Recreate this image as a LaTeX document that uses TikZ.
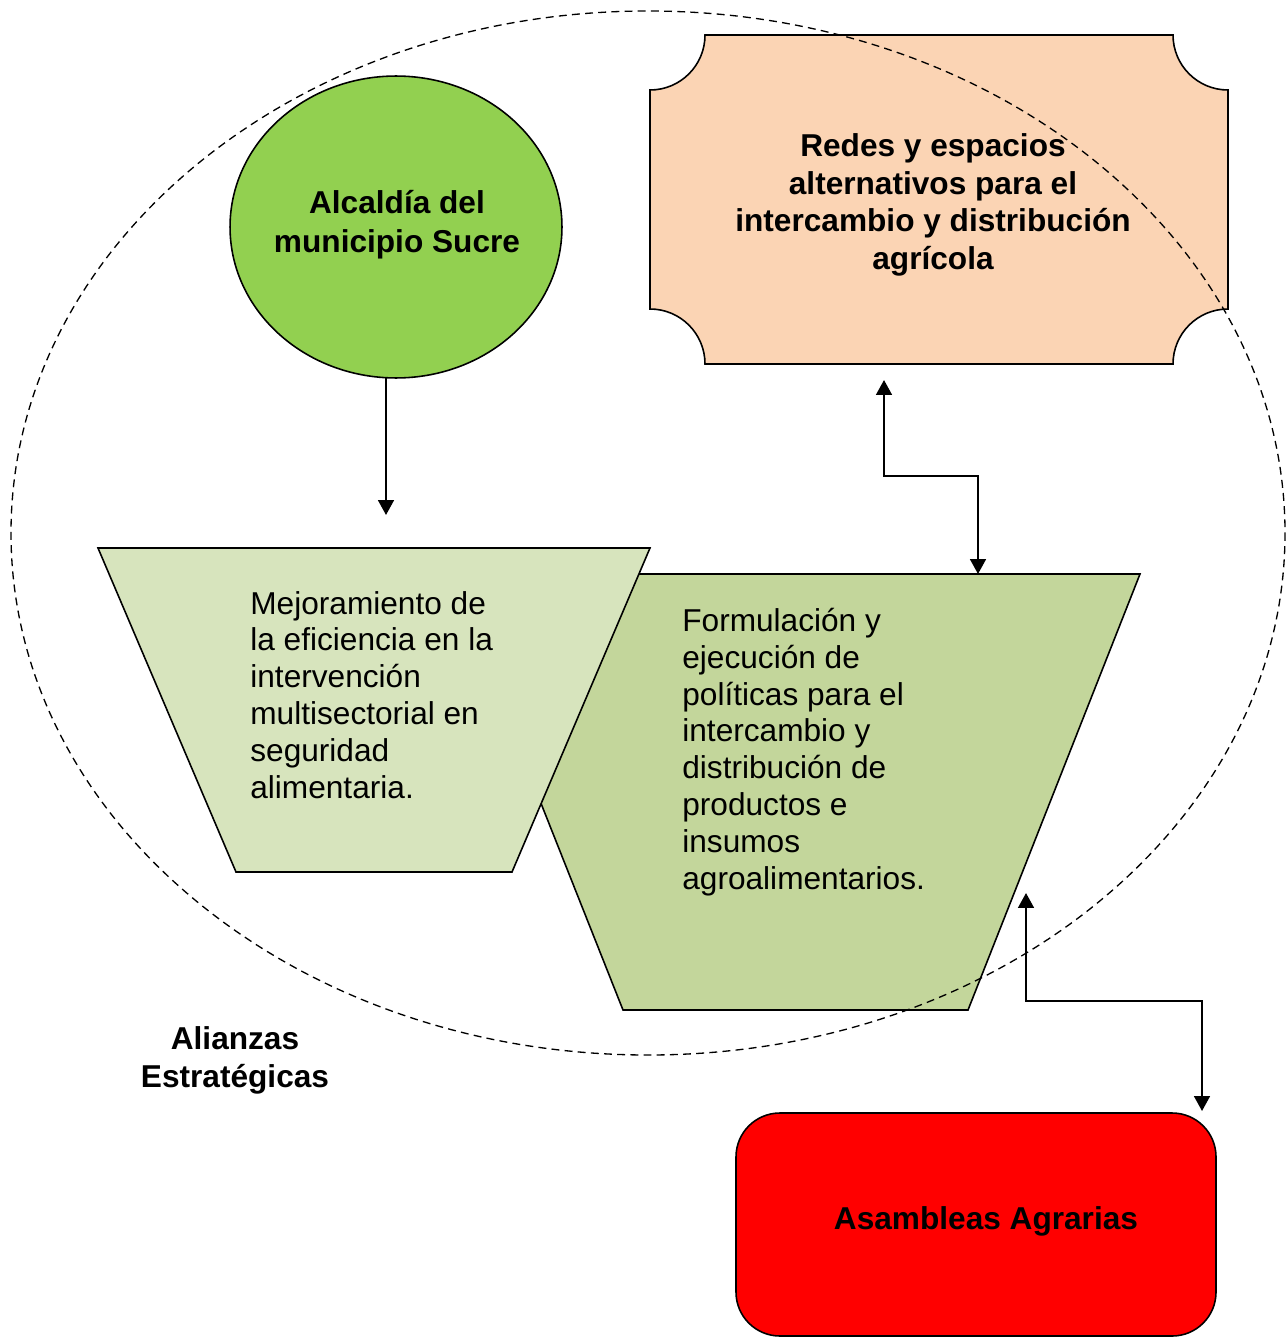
\documentclass[tikz,border=0pt]{standalone}
\usepackage{fontspec}
\setmainfont{Liberation Sans}
\usetikzlibrary{arrows.meta,shapes.geometric}
\definecolor{circgreen}{HTML}{92D050}
\definecolor{peach}{HTML}{FBD4B4}
\definecolor{lightolive}{HTML}{D7E4BD}
\definecolor{olive}{HTML}{C3D69B}
\tikzset{
  shapeline/.style={draw=black, line width=0.9pt},
  link/.style={line width=1.2pt, -{Triangle[length=8.5pt,width=9pt]}},
  biglink/.style={line width=1.2pt, {Triangle[length=8.5pt,width=9pt]}-{Triangle[length=8.5pt,width=9pt]}},
  boldtxt/.style={font=\fontsize{18}{21.5}\selectfont\bfseries, align=center, inner sep=0pt},
  bodytxt/.style={font=\fontsize{18}{21}\selectfont, align=left, inner sep=0pt, anchor=west},
}
\begin{document}
\begin{tikzpicture}[x=0.02cm, y=-0.02cm]
\useasboundingbox (0,0) rectangle (1286,1338);

% Alcaldia circle
\node[ellipse, shapeline, fill=circgreen, minimum width=6.64cm, minimum height=6.04cm, inner sep=0pt] (alc) at (396,227) {};
\node[boldtxt, font=\fontsize{18}{22.2}\selectfont\bfseries] (alctxt) at (397,225) {Alcaldía del\\municipio Sucre};
\coordinate (alcbot) at (386,377);

% Plaque
\path[shapeline, fill=peach] (705,35) -- (1173,35) arc[start angle=180, end angle=90, radius=55]
  -- (1228,309) arc[start angle=270, end angle=180, radius=55]
  -- (705,364) arc[start angle=0, end angle=-90, radius=55]
  -- (650,90) arc[start angle=90, end angle=0, radius=55] -- cycle;
\coordinate (plaqueB) at (884,380);
\node[boldtxt] (redes) at (933,205) {Redes y espacios\\alternativos para el\\intercambio y distribución\\agrícola};

% Right trapezoid
\path[shapeline, fill=olive] (450,574) -- (1140,574) -- (968,1010) -- (623,1010) -- cycle;
\coordinate (trapRtop) at (978,574);
\coordinate (trapRright) at (1026,893);
\node[bodytxt] (formtxt) at (682,752) {Formulación y\\ejecución de\\políticas para el\\intercambio y\\distribución de\\productos e\\insumos\\agroalimentarios.};

% Left trapezoid
\path[shapeline, fill=lightolive] (98,548) -- (650,548) -- (512,872) -- (236,872) -- cycle;
\coordinate (trapLtop) at (386,515);
\node[bodytxt] (mejtxt) at (250,695) {Mejoramiento de\\la eficiencia en la\\intervención\\multisectorial en\\seguridad\\alimentaria.};

% Red box
\path[shapeline, fill=red, rounded corners=25pt] (736,1113) rectangle (1216,1336);
\coordinate (redtop) at (1202,1111);
\node[boldtxt] (asam) at (986,1221) {Asambleas Agrarias};

% Label
\node[boldtxt] (alianzas) at (235,1060) {Alianzas\\Estratégicas};

% Connectors
\draw[link] (alcbot) -- (trapLtop);
\draw[biglink] (plaqueB) |- (931,476) -| (trapRtop);
\draw[biglink] (trapRright) |- (1114,1001) -| (redtop);

% Dashed ellipse
\draw[line width=0.75pt, dash pattern=on 4.5pt off 3pt] (648,533) ellipse[x radius=637, y radius=522];
\end{tikzpicture}
\end{document}
